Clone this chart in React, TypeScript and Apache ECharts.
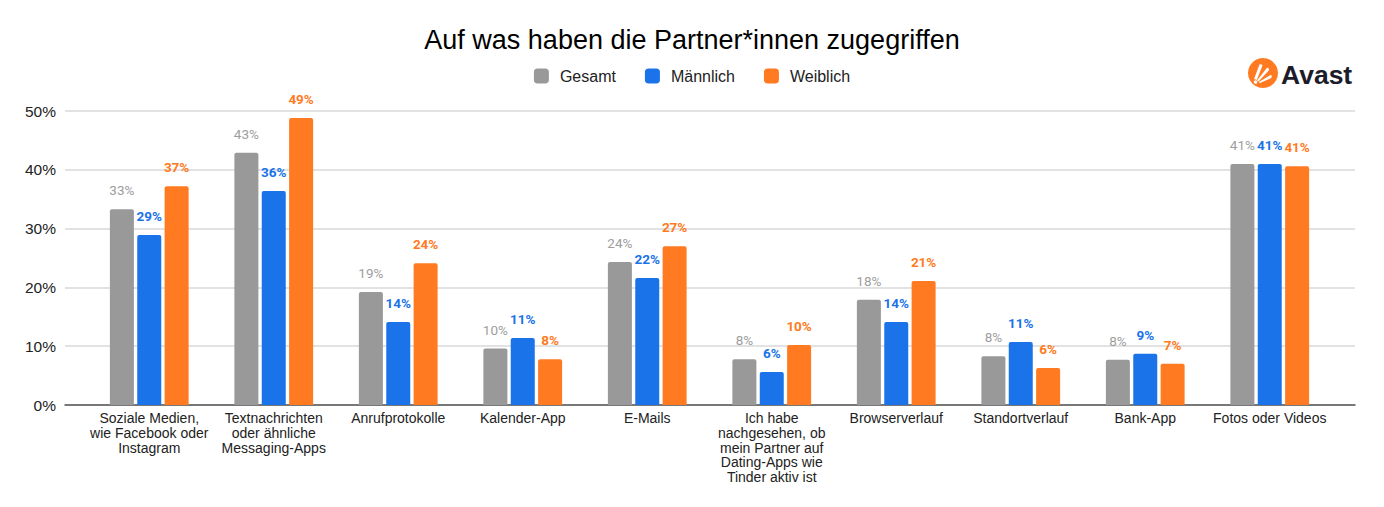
import React, { useEffect, useRef } from "react";
import * as echarts from "echarts";

const categories = [
  "Soziale Medien,\nwie Facebook oder\nInstagram",
  "Textnachrichten\noder ähnliche\nMessaging-Apps",
  "Anrufprotokolle",
  "Kalender-App",
  "E-Mails",
  "Ich habe\nnachgesehen, ob\nmein Partner auf\nDating-Apps wie\nTinder aktiv ist",
  "Browserverlauf",
  "Standortverlauf",
  "Bank-App",
  "Fotos oder Videos",
];
const gesamt = [33.3, 42.9, 19.2, 9.6, 24.3, 7.8, 17.9, 8.3, 7.7, 41.0];
const maennlich = [28.9, 36.4, 14.1, 11.4, 21.6, 5.6, 14.1, 10.7, 8.7, 41.0];
const weiblich = [37.2, 48.8, 24.1, 7.8, 27.0, 10.2, 21.1, 6.3, 7.0, 40.6];
const seriesNames = ["Gesamt", "Männlich", "Weiblich"];
const yTicks = [0, 10, 20, 30, 40, 50];

const COLORS = ["#999999", "#1A73E8", "#FF7A21"];
const LABEL_COLORS = ["#9E9E9E", "#1A73E8", "#FF7A21"];

const logoPath =
  "M6 21 L11.5 6.5 Q13.5 5.5 14.5 7.5 L8.8 22 Z " +
  "M9 22.5 L19 9.8 Q21.2 9.8 21.2 12 L10.5 23.6 Z " +
  "M10.8 24 L23 16.8 Q24.6 18.6 22.8 20.2 L12 25 Z";

export default function App() {
  const ref = useRef<HTMLDivElement>(null);
  useEffect(() => {
    if (!ref.current) return;
    try {
      echarts.graphic.registerShape(
        "avastlogo",
        echarts.graphic.extendPath(logoPath, {})
      );
    } catch (e) {}
    const chart = echarts.init(ref.current, null, { renderer: "svg" });
    const data = [gesamt, maennlich, weiblich];
    chart.setOption({
      animation: false,
      backgroundColor: "#ffffff",
      title: {
        text: "Auf was haben die Partner*innen zugegriffen",
        left: "center",
        top: 21,
        textStyle: {
          fontFamily: "Liberation Sans, Arial, sans-serif",
          fontSize: 27,
          fontWeight: "normal",
          color: "#000000",
        },
      },
      legend: {
        data: seriesNames,
        left: "center",
        top: 63,
        itemWidth: 15,
        itemHeight: 15,
        itemGap: 29,
        icon: "roundRect",
        textStyle: {
          fontFamily: "Liberation Sans, Arial, sans-serif",
          fontSize: 16,
          color: "#222222",
          padding: [0, 0, 0, 6],
        },
      },
      grid: [
        { left: 65, right: 29, top: 111, bottom: 102 },
        { left: 87, right: 52, top: 111, bottom: 102 },
      ],
      xAxis: [
        {
          type: "category",
          gridIndex: 0,
          data: [""],
          axisLine: { show: true, lineStyle: { color: "#555555", width: 1.5 } },
          axisTick: { show: false },
          axisLabel: { show: false },
        },
        {
          type: "category",
          gridIndex: 1,
          data: categories,
          axisLine: { show: false },
          axisTick: { show: false },
          axisLabel: {
            interval: 0,
            margin: 6,
            fontFamily: "Liberation Sans, Arial, sans-serif",
            fontSize: 14,
            lineHeight: 14.7,
            color: "#222222",
          },
        },
      ],
      yAxis: [
        {
          type: "value",
          gridIndex: 0,
          min: yTicks[0],
          max: yTicks[yTicks.length - 1],
          interval: 10,
          axisLine: { show: false },
          axisTick: { show: false },
          splitLine: { lineStyle: { color: "#D9D9D9", width: 1.5 } },
          axisLabel: {
            margin: 9,
            formatter: "{value}%",
            fontFamily: "Liberation Sans, Arial, sans-serif",
            fontSize: 15.5,
            color: "#222222",
          },
        },
        {
          type: "value",
          gridIndex: 1,
          min: yTicks[0],
          max: yTicks[yTicks.length - 1],
          interval: 10,
          show: false,
          splitLine: { show: false },
        },
      ],
      series: seriesNames.map((name, i) => ({
        name,
        type: "bar",
        xAxisIndex: 1,
        yAxisIndex: 1,
        data: data[i],
        barWidth: 24,
        barGap: "14%",
        itemStyle: { color: COLORS[i], borderRadius: [2, 2, 0, 0] },
        label: {
          show: true,
          position: "top",
          distance: 12,
          formatter: (p: any) => Math.round(p.value) + "%",
          fontFamily: "Roboto, Arial, sans-serif",
          fontSize: 13.5,
          fontWeight: i === 0 ? "normal" : "bold",
          color: LABEL_COLORS[i],
        },
      })),
      graphic: [
        {
          type: "circle",
          shape: { cx: 1263, cy: 73, r: 15 },
          style: { fill: "#FF7A21" },
        },
        {
          type: "avastlogo",
          x: 1248,
          y: 58,
          scaleX: 1,
          scaleY: 1,
          style: { fill: "#ffffff" },
        },
        {
          type: "circle",
          shape: { cx: 1255.5, cy: 82, r: 1.8 },
          style: { fill: "#ffffff" },
        },
        {
          type: "text",
          x: 1281,
          y: 61,
          style: {
            text: "Avast",
            fontFamily: "Liberation Sans, Arial, sans-serif",
            fontSize: 26.5,
            fontWeight: "bold",
            fill: "#1C1C2B",
          },
        },
      ],
    });
    return () => chart.dispose();
  }, []);
  return (
    <div
      ref={ref}
      style={{ position: "fixed", left: 0, top: 0, width: 1384, height: 507 }}
    />
  );
}
